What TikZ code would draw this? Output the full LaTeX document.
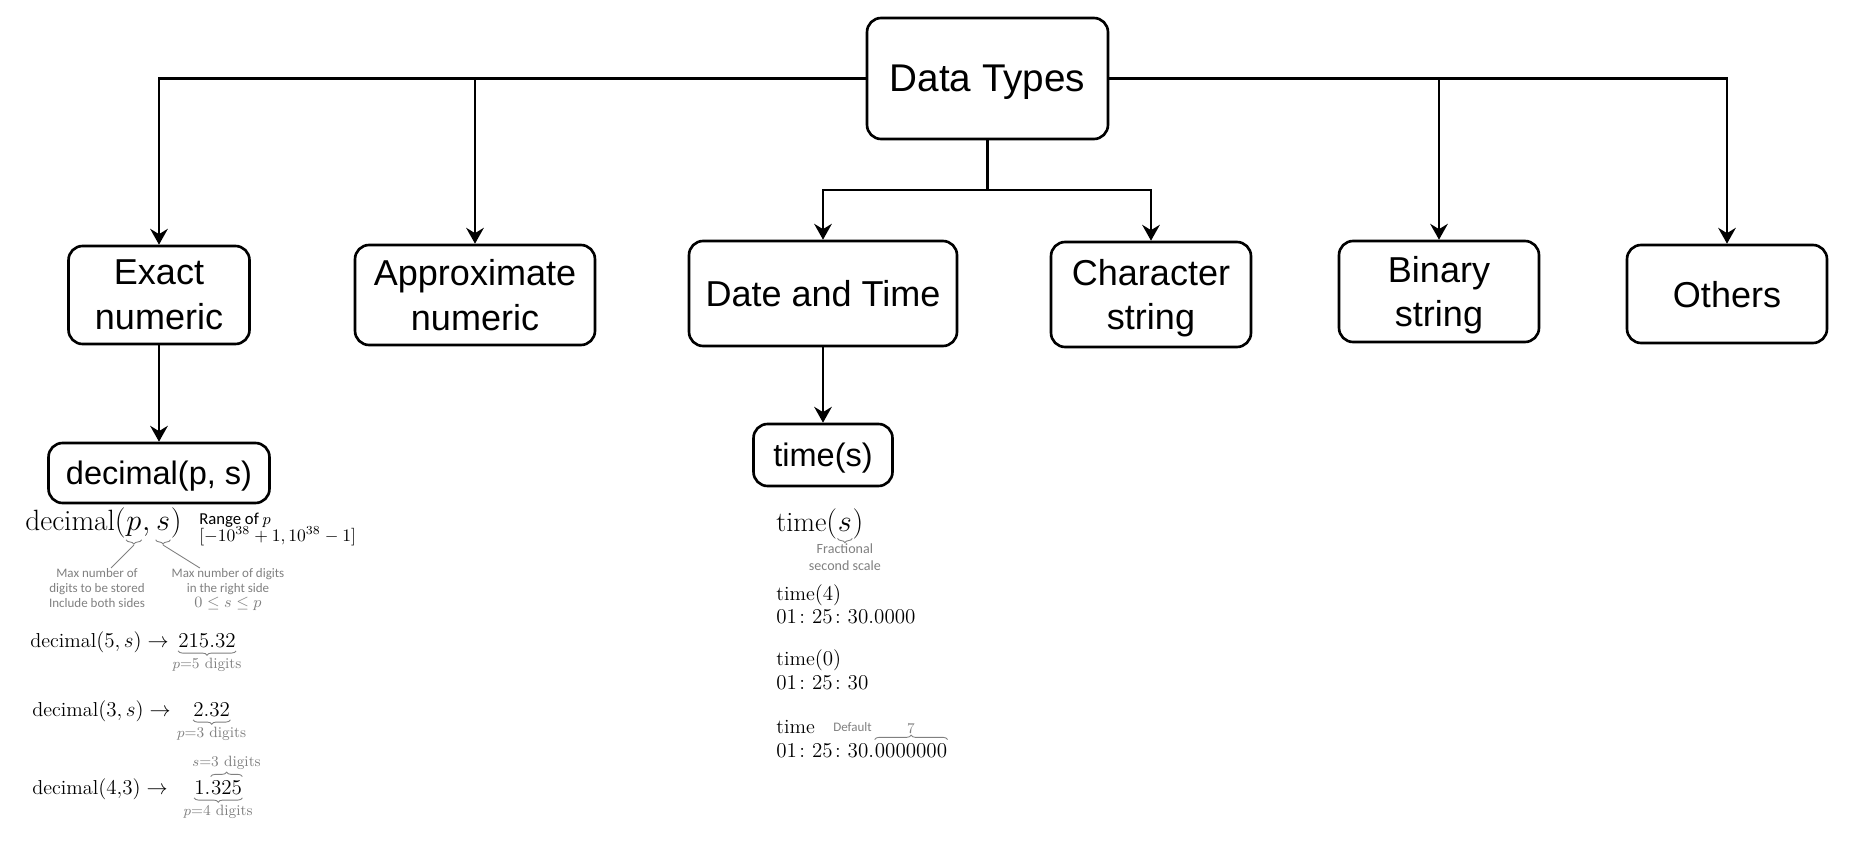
\documentclass[tikz,border=0pt]{standalone}
\usepackage{amsmath}
\usepackage{amssymb}
\usepackage{fontspec}
\usepackage{xcolor}
\usepackage{tikz}
\usetikzlibrary{arrows.meta,positioning,decorations.pathreplacing}
\setsansfont{Liberation Sans}
\newfontfamily\calfont{Carlito}
\definecolor{notegray}{RGB}{128,128,128}

\begin{document}
\begin{tikzpicture}[x=0.02cm,y=-0.02cm,
    box/.style={draw,line width=1.5pt,rounded corners=8pt,inner sep=0pt,align=center,text depth=0pt,
        font=\sffamily\fontsize{20.5}{25.5}\selectfont},
    arr/.style={line width=1.5pt,-{Stealth[length=9pt,width=10pt,inset=3pt]}},
    plain/.style={inner sep=0pt,anchor=base west,font=\fontsize{11.5}{14}\selectfont},
    big/.style={inner sep=0pt,anchor=base west,font=\fontsize{16}{19}\selectfont},
    note/.style={inner sep=0pt,align=center,text=notegray,font=\calfont\fontsize{7.4}{8.6}\selectfont},
    snote/.style={inner sep=0pt,text=notegray,font=\fontsize{8.5}{10}\selectfont},
    gline/.style={draw=notegray,line width=0.5pt},
    ubrace/.style={gline,decorate,decoration={brace,mirror,amplitude=2.5pt}},
    obrace/.style={gline,decorate,decoration={brace,amplitude=2.5pt}}]
    \useasboundingbox (0,0) rectangle (1850,852);
    % boxes
    \node[box,minimum width=4.82cm,minimum height=2.42cm,font=\sffamily\fontsize{22}{26}\selectfont] (types) at (987.5,78.5) {Data Types};
    \node[box,minimum width=3.62cm,minimum height=1.96cm] (exact) at (159,295) {Exact\\numeric};
    \node[box,minimum width=4.8cm,minimum height=2cm] (approx) at (475,295) {Approximate\\numeric};
    \node[box,minimum width=5.36cm,minimum height=2.1cm] (datetime) at (823,293.5) {Date and Time};
    \node[box,minimum width=4cm,minimum height=2.1cm] (charstr) at (1151,294.5) {Character\\string};
    \node[box,minimum width=4cm,minimum height=2.02cm] (binstr) at (1439,291.5) {Binary\\string};
    \node[box,minimum width=4cm,minimum height=1.96cm] (others) at (1727,294) {Others};
    \node[box,minimum width=4.42cm,minimum height=1.2cm,font=\sffamily\fontsize{18.5}{22}\selectfont] (decimal) at (159,473) {decimal(p, s)};
    \node[box,minimum width=2.78cm,minimum height=1.24cm,font=\sffamily\fontsize{18.5}{22}\selectfont] (time) at (823,455) {time(s)};
    \coordinate (fork) at (987.5,190);
    %
    \draw[arr] (types.west) -| (exact);
    \draw[arr] (types.west -| approx) -- (approx);
    \draw[arr] (types.east) -| (others);
    \draw[arr] (types.east -| binstr) -- (binstr);
    \draw[line width=1.5pt] (types) -- (fork);
    \draw[arr] (fork) -| (datetime);
    \draw[arr] (fork) -| (charstr);
    \draw[arr] (exact) -- (decimal);
    \draw[arr] (datetime) -- (time);

    % decimal(p,s) notes
    \begin{scope}[big/.append style={font=\fontsize{16.7}{19}\selectfont}]
    \node[big] (dpre) at (25,530) {$\mathrm{decimal}($};
    \node[big] (dp) at (dpre.base east) {$p$};
    \node[big] (dcomma) at (dp.base east) {$,\,$};
    \node[big] (ds) at (dcomma.base east) {$s$};
    \node[big] (dpost) at (ds.base east) {$)$};
    \end{scope}
    \coordinate (sbase) at (ds.south |- dp.south);
    \coordinate (sbasew) at (ds.south west |- dp.south);
    \coordinate (sbasee) at (ds.south east |- dp.south);
    \draw[ubrace] ([yshift=-2pt]dp.south west) -- ([yshift=-2pt]dp.south east);
    \draw[ubrace] ([yshift=-2pt]sbasew) -- ([yshift=-2pt]sbasee);
    \coordinate (ptip) at ([yshift=-5pt]dp.south);
    \coordinate (stip) at ([yshift=-5pt]sbase);
    \node[note,anchor=north] (maxp) at (97,568) {Max number of\\digits to be stored\\Include both sides};
    \node[note,anchor=north] (maxs) at (228,568) {Max number of digits\\in the right side\\{\fontsize{9}{10}\selectfont$0\le s\le p$}};
    \draw[gline] (ptip) -- ([xshift=8pt]maxp.north);
    \draw[gline] (stip) -- ([xshift=-16pt]maxs.north);
    \node[inner sep=0pt,anchor=base west,font=\calfont\fontsize{9.5}{11}\selectfont] (range) at (199,524) {Range of $p$};
    \node[inner sep=0pt,anchor=base west,font=\fontsize{9.6}{11}\selectfont] (rangeval) at (199,541) {$[-10^{38}+1,10^{38}-1]$};

    % examples
    \node[plain] (dec5) at (30,647) {$\mathrm{decimal}(5,s)\rightarrow$};
    \node[plain] (v215) at (178,647) {$215.32$};
    \draw[ubrace] ([yshift=-2pt]v215.south west) -- node[snote,below=4pt] (p5) {$p$=5 digits} ([yshift=-2pt]v215.south east);
    \node[plain] (dec3) at (32,716) {$\mathrm{decimal}(3,s)\rightarrow$};
    \node[plain] (v232) at (193,716) {$2.32$};
    \draw[ubrace] ([yshift=-2pt]v232.south west) -- node[snote,below=4pt] (p3) {$p$=3 digits} ([yshift=-2pt]v232.south east);
    \node[plain] (dec43) at (32,794) {$\mathrm{decimal}(4{,}3)\rightarrow$};
    \node[plain] (v1) at (194,794) {$1.$};
    \node[plain] (v325) at (v1.base east) {$325$};
    \draw[obrace] ([yshift=2pt]v325.north west) -- node[snote,above=4pt] (s3) {$s$=3 digits} ([yshift=2pt]v325.north east);
    \draw[ubrace] ([yshift=-2pt]v1.south west) -- node[snote,below=4pt] (p4) {$p$=4 digits} ([yshift=-2pt]v325.south east);

    % time(s) notes
    \node[big] (tpre) at (776,531) {$\mathrm{time}($};
    \node[big] (ts) at (tpre.base east) {$s$};
    \node[big] (tpost) at (ts.base east) {$)$};
    \draw[ubrace] ([yshift=-4pt]ts.south west) -- node[note,below=3pt,font=\calfont\fontsize{8}{9.2}\selectfont] (fracs) {Fractional\\second scale} ([yshift=-4pt]ts.south east);
    \node[plain] (t4) at (776,600) {$\mathrm{time}(4)$};
    \node[plain] (t4v) at (776,623) {$01\colon 25\colon 30.0000$};
    \node[plain] (t0) at (776,665) {$\mathrm{time}(0)$};
    \node[plain] (t0v) at (776,689) {$01\colon 25\colon 30$};
    \node[plain] (tdef) at (776,733) {$\mathrm{time}$};
    \node[note,anchor=base west] (default) at (833,731) {Default};
    \node[plain] (tdv) at (776,757) {$01\colon 25\colon 30.$};
    \node[plain] (tfrac) at (tdv.base east) {$0000000$};
    \draw[obrace] ([yshift=2pt]tfrac.north west) -- node[snote,above=3pt] (seven) {7} ([yshift=2pt]tfrac.north east);
\end{tikzpicture}
\end{document}
